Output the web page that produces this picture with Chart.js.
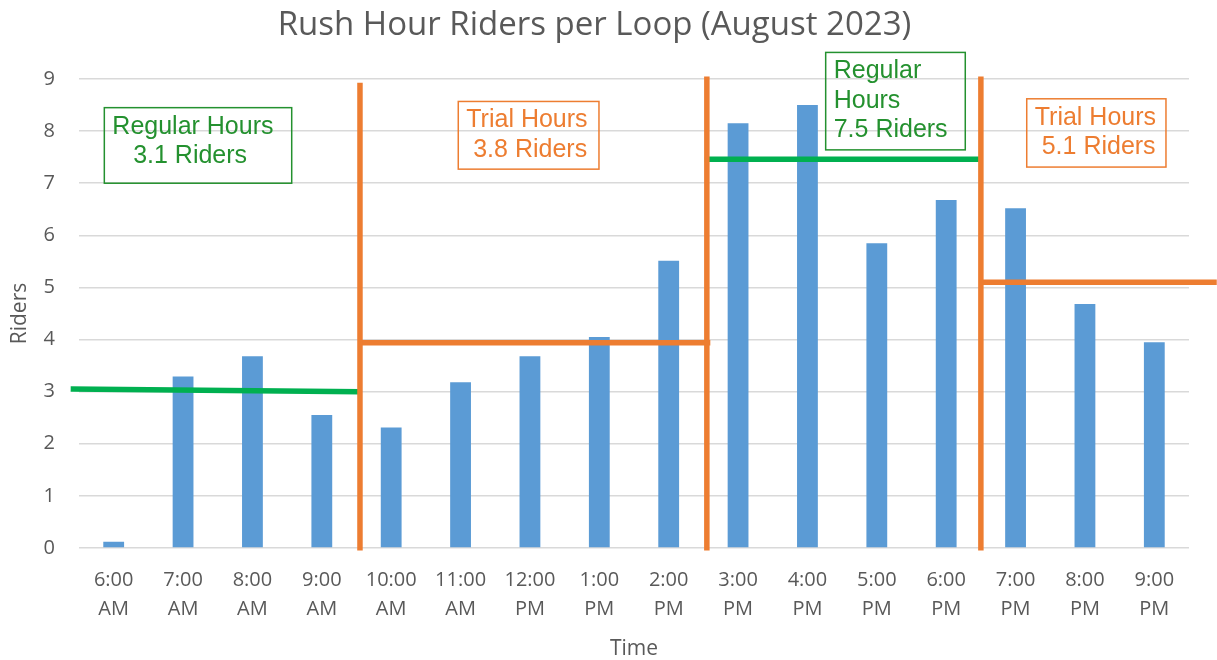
<!DOCTYPE html>
<html><head><meta charset="utf-8">
<script src="https://cdn.jsdelivr.net/npm/chart.js@4/dist/chart.umd.min.js"></script>
<style>html,body{margin:0;padding:0;background:#fff;}#wrap{width:1217px;height:660px;}</style>
</head><body><div id="wrap"><canvas id="c" width="1217" height="660"></canvas></div>
<script>
// ---- data ----
const categories = [["6:00","AM"],["7:00","AM"],["8:00","AM"],["9:00","AM"],["10:00","AM"],["11:00","AM"],["12:00","PM"],["1:00","PM"],["2:00","PM"],["3:00","PM"],["4:00","PM"],["5:00","PM"],["6:00","PM"],["7:00","PM"],["8:00","PM"],["9:00","PM"]];
const riders = [0.12, 3.29, 3.68, 2.55, 2.31, 3.18, 3.68, 4.05, 5.51, 8.15, 8.5, 5.85, 6.68, 6.52, 4.68, 3.95];
const yTickValues = [0, 1, 2, 3, 4, 5, 6, 7, 8, 9];

// period dividers and averages (x in category-index units, y in riders)
const divider1 = [{x: 3.55, y: -0.05}, {x: 3.55, y: 8.93}];
const divider2 = [{x: 8.55, y: -0.05}, {x: 8.55, y: 9.05}];
const divider3 = [{x: 12.5, y: -0.05}, {x: 12.5, y: 9.05}];
const regularAvgMorning = [{x: -0.62, y: 3.05}, {x: 3.55, y: 3.0}];
const trialAvgMidday = [{x: 3.55, y: 3.94}, {x: 8.6, y: 3.94}];
const regularAvgAfternoon = [{x: 8.52, y: 7.46}, {x: 12.49, y: 7.46}];
const trialAvgEvening = [{x: 12.53, y: 5.1}, {x: 15.9, y: 5.1}];

// note boxes (bounds in category-index / rider units)
const noteTexts = [
  ["Regular Hours", "   3.1 Riders"],
  ["Trial Hours", " 3.8 Riders"],
  ["Regular", "Hours", "7.5 Riders"],
  ["Trial Hours", " 5.1 Riders"]
];
const noteBoundsX = [[-0.135, 2.566], [4.967, 6.995], [10.263, 12.275], [13.161, 15.168]];
const noteBoundsY = [[8.45, 7.0], [8.569, 7.27], [9.51, 7.64], [8.62, 7.31]];
const noteKinds = ["regular", "trial", "regular", "trial"];

// ---- styles ----
const BLUE = '#5B9BD5', ORANGE = '#ED7D31', GREEN = '#00B050';
const NOTE_COLORS = {regular: '#24912F', trial: '#ED7D31'};
const GRAY = '#595959';

function seg(data, color) {
  return {type: 'line', data, xAxisID: 'x2', yAxisID: 'y', borderColor: color, backgroundColor: color,
    borderWidth: 5.5, pointRadius: 0, pointHoverRadius: 0, fill: false, tension: 0, clip: false,
    borderCapStyle: 'butt', order: 0};
}

const notesPlugin = {
  id: 'notes',
  afterDatasetsDraw(chart) {
    const ctx = chart.ctx, xs = chart.scales.x2, ys = chart.scales.y;
    ctx.save();
    noteTexts.forEach((lines, i) => {
      const color = NOTE_COLORS[noteKinds[i]];
      const x0 = xs.getPixelForValue(noteBoundsX[i][0]), x1 = xs.getPixelForValue(noteBoundsX[i][1]);
      const y0 = ys.getPixelForValue(noteBoundsY[i][0]), y1 = ys.getPixelForValue(noteBoundsY[i][1]);
      ctx.strokeStyle = color; ctx.lineWidth = 1.5;
      ctx.strokeRect(x0, y0, x1 - x0, y1 - y0);
      ctx.fillStyle = color;
      ctx.font = '25px "Liberation Sans", Arial, sans-serif';
      ctx.textBaseline = 'middle'; ctx.textAlign = 'left';
      lines.forEach((t, j) => ctx.fillText(t, x0 + 8, y0 + 19 + j * 29.3));
    });
    ctx.restore();
  }
};

new Chart(document.getElementById('c'), {
  type: 'bar',
  data: {
    labels: categories,
    datasets: [
      seg(divider1, ORANGE), seg(divider2, ORANGE), seg(divider3, ORANGE),
      seg(regularAvgMorning, GREEN), seg(trialAvgMidday, ORANGE),
      seg(regularAvgAfternoon, GREEN), seg(trialAvgEvening, ORANGE),
      {type: 'bar', data: riders, backgroundColor: BLUE, xAxisID: 'x', yAxisID: 'y',
       barPercentage: 0.3, categoryPercentage: 1, grouped: false, order: 1}
    ]
  },
  options: {
    responsive: false, animation: false, devicePixelRatio: 1,
    layout: {padding: {left: 0, right: 28, top: 0, bottom: 0}},
    plugins: {
      legend: {display: false}, tooltip: {enabled: false},
      title: {display: true, text: 'Rush Hour Riders per Loop (August 2023)', color: GRAY,
        font: {family: '"Open Sans", sans-serif', size: 33, weight: 'normal', lineHeight: 1.2},
        padding: {top: 6, bottom: 33.4}}
    },
    scales: {
      x: {
        type: 'category', offset: true,
        grid: {display: false, drawTicks: false}, border: {display: false},
        ticks: {color: GRAY, font: {family: '"Open Sans", sans-serif', size: 20, lineHeight: 1.45},
          padding: 17.5, maxRotation: 0, autoSkip: false},
        title: {display: true, text: 'Time', color: GRAY,
          font: {family: '"Open Sans", sans-serif', size: 21, lineHeight: 1.0}, padding: {top: 0, bottom: 0}},
        afterFit(s) { s.height = 112; }
      },
      x2: {type: 'linear', display: false, offset: false, grid: {offset: false}, min: -0.5, max: 15.5},
      y: {
        min: 0, max: 9,
        afterBuildTicks(s) { s.ticks = yTickValues.map(v => ({value: v})); },
        grid: {color: '#D9D9D9', lineWidth: 1.5, drawTicks: false}, border: {display: false},
        ticks: {color: GRAY, font: {family: '"Open Sans", sans-serif', size: 20}, padding: 24},
        title: {display: true, text: 'Riders', color: GRAY,
          font: {family: '"Open Sans", sans-serif', size: 21}, padding: {top: 7.4, bottom: 0}},
        afterFit(s) { s.width = 79; }
      }
    }
  },
  plugins: [notesPlugin]
});
</script></body></html>
